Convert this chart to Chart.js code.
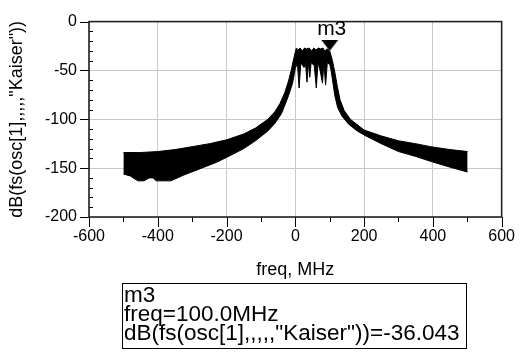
<!DOCTYPE html>
<html>
<head>
<meta charset="utf-8">
<script src="https://cdn.jsdelivr.net/npm/chart.js@4.4.1/dist/chart.umd.min.js"></script>
<style>
  body { margin: 0; background: #fff; }
  #wrap { position: relative; width: 525px; height: 354px; }
  #readout {
    position: absolute; left: 122px; top: 283px; width: 342px; height: 63px;
    border: 1.5px solid #000; padding: 1px 0 0 1px; color: #000;
    font: 22.5px "Liberation Sans", Arial, sans-serif; line-height: 19px; white-space: nowrap;
  }
</style>
</head>
<body>
<div id="wrap">
  <canvas id="spec" width="525" height="354"></canvas>
  <div id="readout"></div>
</div>
<script>
// spectrum envelope, upper edge (freq in MHz, level in dB)
const upperFreq = [-500, -450, -400, -350, -300, -250, -200, -150, -116, -80, -59, -45, -31, -20, -12, -6, 0,
  3, 8, 14, 20, 27, 33, 40, 47, 54, 60, 67, 73, 80, 86, 93, 100,
  108, 115, 122, 130, 142, 160, 200, 250, 300, 350, 393, 450, 501];
const upperDb = [-134, -134, -133, -131, -128, -125, -121, -115, -109, -100, -92, -84, -73, -61, -50, -40, -31,
  -27, -29, -27, -30, -27, -28, -27, -30, -27, -29, -27, -28, -27, -30, -28, -30,
  -40, -52, -66, -80, -91, -100, -111, -117, -122, -125, -128, -131, -133];

// lower edge, with the deep notches inside the pass band
const lowerFreq = [-500, -480, -458, -440, -425, -413, -405, -362, -324, -280, -229, -200, -150, -116, -80, -59, -40, -31, -20, -8, 0,
  6, 11, 16, 25, 30, 34, 38, 42, 46, 55, 61, 66, 72, 79, 83, 88, 93, 100,
  104, 109, 115, 123, 136, 155, 180, 205, 250, 300, 350, 393, 450, 501];
const lowerDb = [-156, -158, -163, -163, -160, -160, -163, -163, -157, -151, -144, -139, -130, -122, -112, -104, -94, -86, -76, -63, -48,
  -42, -68, -42, -47, -44, -62, -42, -57, -42, -45, -68, -42, -50, -63, -42, -65, -42, -44,
  -50, -62, -76, -88, -97, -105, -112, -117, -125, -133, -138, -143, -149, -154];

// marker m3
const markerName = 'm3';
const markerFreq = 100.0;
const markerDb = -36.043;

const xTicks = { min: -600, max: 600, step: 200, minor: 100 };
const yTicks = { min: -200, max: 0, step: 50, minor: 10 };
const yLabel = 'dB(fs(osc[1],,,,,"Kaiser"))';

const FONT = '"Liberation Sans", Arial, sans-serif';

document.getElementById('readout').innerHTML =
  markerName + '<br>freq=' + markerFreq.toFixed(1) + 'MHz<br>' + yLabel + '=' + markerDb.toFixed(3);

function markerImage() {
  // downward triangle sitting above the centre of the image
  const c = document.createElement('canvas');
  c.width = 18; c.height = 34;
  const g = c.getContext('2d');
  g.fillStyle = '#000';
  g.beginPath();
  g.moveTo(0.5, 0); g.lineTo(17.5, 0); g.lineTo(9, 11);
  g.closePath();
  g.fill();
  return c;
}

const frameTicks = {
  id: 'frameTicks',
  afterDraw(chart) {
    const { ctx, chartArea: a, scales: { x, y } } = chart;
    ctx.save();
    ctx.strokeStyle = '#000';
    ctx.lineWidth = 1;
    for (let v = yTicks.min; v <= yTicks.max; v += yTicks.minor) {
      const py = Math.round(y.getPixelForValue(v)) + 0.5;
      ctx.beginPath();
      if (v % yTicks.step === 0) { ctx.moveTo(a.left - 9, py); ctx.lineTo(a.left, py); }
      else { ctx.moveTo(a.left, py); ctx.lineTo(a.left + 4, py); }
      ctx.stroke();
    }
    for (let v = xTicks.min; v <= xTicks.max; v += xTicks.minor) {
      const px = Math.round(x.getPixelForValue(v)) + 0.5;
      ctx.beginPath();
      ctx.moveTo(px, a.bottom);
      ctx.lineTo(px, a.bottom + (v % xTicks.step === 0 ? 10 : 5));
      ctx.stroke();
    }
    ctx.lineWidth = 1.6;
    ctx.strokeStyle = '#222';
    ctx.strokeRect(a.left, a.top, a.right - a.left, a.bottom - a.top);

    const pt = chart.getDatasetMeta(2).data[0];
    ctx.fillStyle = '#000';
    ctx.font = '21px ' + FONT;
    ctx.textAlign = 'center';
    ctx.textBaseline = 'alphabetic';
    ctx.fillText(markerName, pt.x + 2, pt.y - 22);
    ctx.restore();
  }
};

new Chart(document.getElementById('spec'), {
  type: 'line',
  data: {
    datasets: [
      {
        label: 'upper',
        data: upperFreq.map((f, i) => ({ x: f, y: upperDb[i] })),
        borderColor: '#000', borderWidth: 1, backgroundColor: '#000',
        fill: '+1', pointRadius: 0, tension: 0
      },
      {
        label: 'lower',
        data: lowerFreq.map((f, i) => ({ x: f, y: lowerDb[i] })),
        borderColor: '#000', borderWidth: 1, backgroundColor: '#000',
        fill: false, pointRadius: 0, tension: 0
      },
      {
        label: markerName,
        data: [{ x: markerFreq, y: markerDb }],
        showLine: false, pointStyle: markerImage(), pointRadius: 9
      }
    ]
  },
  options: {
    responsive: false,
    animation: false,
    layout: { padding: { left: 0, top: 12, right: 12, bottom: 72 } },
    plugins: { legend: { display: false }, tooltip: { enabled: false } },
    scales: {
      x: {
        type: 'linear', min: xTicks.min, max: xTicks.max,
        ticks: { stepSize: xTicks.step, color: '#000', font: { family: FONT, size: 16 }, padding: 10, maxRotation: 0 },
        grid: { color: '#c8c8c8', drawTicks: false },
        border: { display: false },
        title: { display: true, text: 'freq, MHz', color: '#000', font: { family: FONT, size: 18 }, padding: { top: 0, bottom: 1 } },
        afterFit(s) { s.height = 65; }
      },
      y: {
        min: yTicks.min, max: yTicks.max,
        ticks: { stepSize: yTicks.step, color: '#000', font: { family: FONT, size: 16 }, padding: 12 },
        grid: { color: '#c8c8c8', drawTicks: false },
        border: { display: false },
        title: { display: true, text: yLabel, color: '#000', font: { family: FONT, size: 18 }, padding: { top: 6, bottom: 0 } },
        afterFit(s) { s.width = 89; }
      }
    }
  },
  plugins: [frameTicks]
});
</script>
</body>
</html>
